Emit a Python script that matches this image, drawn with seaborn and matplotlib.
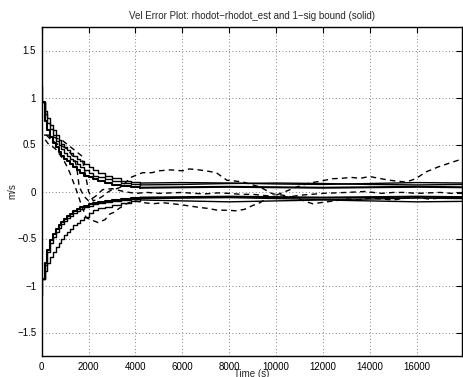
import matplotlib
matplotlib.use('Agg')
import matplotlib.pyplot as plt
import seaborn as sns

# sigma bounds, early part (staircase)
t_early = [0, 30, 120, 240, 360, 480, 600, 720, 840, 960, 1080, 1200, 1350, 1500, 1650,
           1800, 2000, 2200, 2400, 2700, 3000, 3400, 3800, 4200]
p1_early = [1.12, 0.95, 0.86, 0.78, 0.71, 0.65, 0.6, 0.55, 0.51, 0.47, 0.44, 0.41, 0.38,
            0.35, 0.32, 0.29, 0.26, 0.23, 0.2, 0.17, 0.14, 0.115, 0.1, 0.09]
p2_early = [0.95, 0.95, 0.82, 0.73, 0.66, 0.6, 0.54, 0.49, 0.45, 0.41, 0.38, 0.35, 0.32,
            0.29, 0.26, 0.23, 0.2, 0.17, 0.15, 0.13, 0.11, 0.09, 0.08, 0.07]
p3_early = [0.95, 0.95, 0.75, 0.65, 0.58, 0.52, 0.47, 0.42, 0.38, 0.35, 0.32, 0.29, 0.26,
            0.23, 0.2, 0.17, 0.15, 0.13, 0.11, 0.09, 0.07, 0.055, 0.045, 0.04]
n1_early = [-1.1, -0.93, -0.85, -0.76, -0.7, -0.64, -0.59, -0.55, -0.5, -0.46, -0.43, -0.4,
            -0.36, -0.33, -0.3, -0.27, -0.23, -0.2, -0.18, -0.16, -0.14, -0.12, -0.1, -0.09]
n2_early = [-0.93, -0.93, -0.78, -0.64, -0.55, -0.48, -0.43, -0.39, -0.35, -0.31, -0.28, -0.26,
            -0.23, -0.21, -0.19, -0.17, -0.15, -0.13, -0.12, -0.11, -0.1, -0.09, -0.08, -0.075]
n3_early = [-0.93, -0.93, -0.76, -0.62, -0.52, -0.45, -0.4, -0.36, -0.32, -0.29, -0.26, -0.24,
            -0.21, -0.19, -0.17, -0.15, -0.13, -0.12, -0.11, -0.1, -0.09, -0.08, -0.07, -0.065]

# sigma bounds, late part (smooth)
t_late = [4200, 6000, 8000, 10000, 12000, 14000, 16000, 18000]
p1_late = [0.09, 0.095, 0.09, 0.08, 0.075, 0.085, 0.095, 0.09]
p2_late = [0.07, 0.075, 0.085, 0.09, 0.085, 0.075, 0.07, 0.075]
p3_late = [0.04, 0.045, 0.05, 0.045, 0.04, 0.045, 0.05, 0.045]
n1_late = [-0.09, -0.1, -0.11, -0.1, -0.09, -0.1, -0.11, -0.105]
n2_late = [-0.075, -0.07, -0.065, -0.075, -0.085, -0.08, -0.07, -0.075]
n3_late = [-0.065, -0.06, -0.055, -0.06, -0.065, -0.06, -0.055, -0.06]

# velocity errors (dashed)
t_d1 = [100, 300, 500, 700, 900, 1100, 1300, 1500, 1700, 1850, 2000, 2200, 2400, 2600,
        2800, 3000, 3200, 3400, 3600, 3800, 4300, 4700, 5000, 5500, 6000, 6300, 6700,
        7000, 7450, 7900, 8300, 8600, 9000, 9300, 9850, 10300, 10700, 11000, 11300,
        11560, 12000, 12500, 13000, 13500, 14000, 14500, 15000, 15500, 16000, 16500,
        17000, 17500, 18000]
d1 = [0.6, 0.6, 0.58, 0.56, 0.54, 0.5, 0.46, 0.42, 0.38, 0.2, 0.0, -0.1, -0.08, -0.05,
      -0.01, 0.02, 0.03, 0.05, 0.1, 0.15, 0.2, 0.2, 0.22, 0.23, 0.22, 0.24, 0.23, 0.22,
      0.2, 0.12, 0.11, 0.1, 0.07, 0.05, -0.025, -0.04, -0.06, -0.08, -0.11, -0.13,
      -0.115, -0.1, -0.08, -0.09, -0.07, -0.08, -0.09, -0.07, -0.06, -0.08, -0.07,
      -0.06, -0.06]
t_d2 = [150, 300, 450, 600, 750, 900, 1050, 1200, 1350, 1500, 1700, 1900, 2100, 2400,
        2700, 2900, 3100, 3300, 3500, 3700, 4000, 4400, 4740, 5200, 5740, 6200, 6740,
        7100, 7450, 7900, 8300, 8650, 8990, 9300, 9570, 10140, 10500, 10850, 11420,
        11900, 12400, 12800, 13200, 13600, 13970, 14400, 14820, 15200, 15530, 15960,
        16380, 16900, 17370, 17800, 18000]
d2 = [0.55, 0.5, 0.48, 0.45, 0.4, 0.35, 0.28, 0.2, 0.1, 0.0, -0.15, -0.28, -0.3, -0.33,
      -0.3, -0.24, -0.22, -0.18, -0.15, -0.12, -0.1, -0.12, -0.13, -0.12, -0.135, -0.15,
      -0.17, -0.18, -0.197, -0.2, -0.205, -0.19, -0.15, -0.12, -0.08, -0.025, 0.01,
      0.046, 0.09, 0.11, 0.136, 0.14, 0.15, 0.14, 0.16, 0.14, 0.12, 0.11, 0.1, 0.136,
      0.207, 0.26, 0.3, 0.335, 0.34]
t_d3 = [200, 400, 700, 900, 1100, 1250, 1400, 1500, 1600, 1800, 2000, 2300, 2600, 3000,
        3500, 4000, 4500, 5000, 5500, 6000, 6500, 7000, 7500, 8000, 8500, 9000, 9800,
        10500, 11000, 11500, 12000, 12500, 13000, 13800, 14500, 15000, 15500, 16000,
        16500, 17000, 17500, 18000]
d3 = [0.6, 0.55, 0.5, 0.48, 0.45, 0.4, 0.35, 0.25, 0.05, -0.05, -0.1, -0.05, 0.02, 0.03,
      0.0, -0.02, -0.01, -0.02, -0.015, -0.01, -0.02, -0.025, -0.015, -0.02, -0.03, -0.03,
      -0.05, -0.06, -0.04, -0.03, -0.02, -0.015, -0.01, 0.0, -0.02, -0.01, -0.01, -0.02,
      -0.015, -0.01, -0.02, -0.02]

x_ticks = [0, 2000, 4000, 6000, 8000, 10000, 12000, 14000, 16000]
y_ticks = [-1.5, -1, -0.5, 0, 0.5, 1, 1.5]
y_tick_labels = ['\u22121.5', '\u22121', '\u22120.5', '0', '0.5', '1', '1.5']

sns.set_theme(style="white")
plt.rcParams['font.family'] = ['Liberation Sans', 'DejaVu Sans']

fig = plt.figure(figsize=(4.63, 3.77), dpi=100)
ax = fig.add_axes([41.7 / 463, 1 - 356 / 377, (462 - 41.7) / 463, (356 - 27) / 377])

bounds = [(p1_early, p1_late, 1.0), (p2_early, p2_late, 1.0), (p3_early, p3_late, 1.5),
          (n1_early, n1_late, 1.0), (n2_early, n2_late, 1.0), (n3_early, n3_late, 1.5)]
for early, late, lw in bounds:
    sns.lineplot(x=t_early, y=early, ax=ax, color='black', linewidth=lw,
                 drawstyle='steps-post', estimator=None)
    sns.lineplot(x=t_late, y=late, ax=ax, color='black', linewidth=lw, estimator=None)

for t, d in [(t_d1, d1), (t_d2, d2), (t_d3, d3)]:
    sns.lineplot(x=t, y=d, ax=ax, color='black', linewidth=1.0, estimator=None,
                 linestyle=(0, (4, 3)))

ax.set_xlim(0, 17930)
ax.set_ylim(-1.75, 1.75)
ax.set_xticks(x_ticks)
ax.set_yticks(y_ticks)
ax.set_yticklabels(y_tick_labels)
ax.grid(True, linestyle=(0, (1, 3)), color='0.35', linewidth=0.6)
ax.tick_params(direction='in', length=4, width=0.8, labelsize=7, colors='black',
               top=True, right=True, pad=4)
for s in ax.spines.values():
    s.set_color('black')
    s.set_linewidth(1.0)
ax.set_title('Vel Error Plot: rhodot\u2212rhodot_est and 1\u2212sig bound (solid)',
             fontsize=7, pad=6)
ax.set_xlabel('Time (s)', fontsize=7, va='center')
ax.xaxis.set_label_coords(0.5, -0.054)
ax.set_ylabel('m/s', fontsize=7, va='center')
ax.yaxis.set_label_coords(-0.07, 0.5)

fig.savefig('out.png', dpi=100)
